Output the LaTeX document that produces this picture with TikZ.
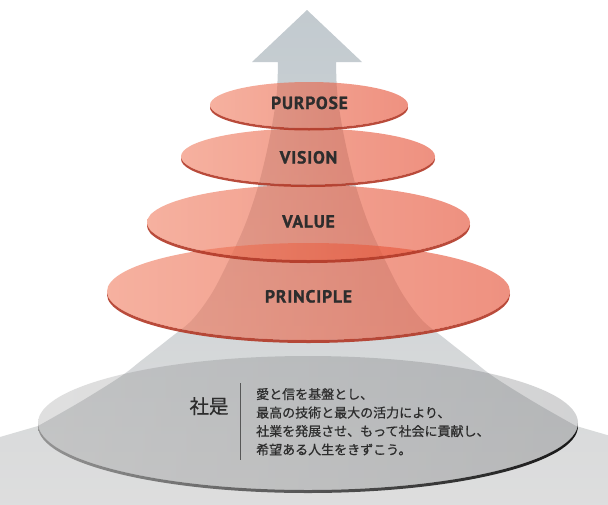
\documentclass[tikz,border=0pt]{standalone}
\usepackage{fontspec}
\newfontfamily\labelfont{PT Sans}[LetterSpace=5, BoldFeatures={FakeBold=1.2}]
\newfontfamily\jpfont{Noto Sans CJK JP}[FakeBold=0.7]

\definecolor{arrowtop}{RGB}{194,202,207}
\definecolor{fanmid}{RGB}{199,202,205}
\definecolor{floorgray}{RGB}{222,222,222}
\definecolor{diskL}{RGB}{240,125,96}
\definecolor{diskR}{RGB}{228,72,44}
\definecolor{rimred}{RGB}{178,56,38}
\definecolor{inkgray}{RGB}{45,45,45}
\definecolor{baseL}{RGB}{125,125,125}
\definecolor{baseR}{RGB}{70,72,76}
\definecolor{rimL}{RGB}{150,150,150}
\definecolor{rimR}{RGB}{20,20,20}

% a flat disk: rim crescent underneath, translucent face on top
% #1 cx, #2 cy, #3 rx, #4 ry, #5 rim thickness
\newcommand\drawdisk[5]{%
  \begin{scope}
    \clip (#1,#2+#5) ellipse [x radius=#3, y radius=#4];
    \fill[rimred, opacity=0.9, even odd rule]
      (#1-#3-4,#2-#4-4) rectangle (#1+#3+4,#2+#4+#5+4)
      (#1,#2) ellipse [x radius=#3, y radius=#4];
  \end{scope}
  \shade[left color=diskL, right color=diskR, fill opacity=0.6]
    (#1,#2) ellipse [x radius=#3, y radius=#4];
}

\tikzset{
  disklabel/.style={font=\labelfont\bfseries\fontsize{17.5}{20}\selectfont,
    text=inkgray, anchor=base, inner sep=0pt},
  mottoline/.style={font=\jpfont\fontsize{13}{15}\selectfont,
    text=inkgray, anchor=base west, inner sep=0pt},
}

\begin{document}
\begin{tikzpicture}[x=1pt,y=-1pt]
\useasboundingbox (0,0) rectangle (608,504);
\fill[white] (0,0) rectangle (608,504);

% arrow that widens into the floor
\shade[top color=arrowtop, middle color=fanmid, bottom color=floorgray]
  (252,62) -- (307,10) -- (362,62) -- (336,62)
  -- plot[smooth, tension=0.55] coordinates {(336,62) (337,90) (341,120) (348,155)
     (357,190) (369,225) (384,258) (402,293) (422,320) (444,338) (472,360)
     (494,377) (534,402) (576,426)}
  -- (614,437) -- (626,440) -- (626,515) -- (-12,515) -- (-12,440) -- (0,437)
  -- plot[smooth, tension=0.55] coordinates {(38,426) (80,402) (120,377) (142,360)
     (170,338) (192,320) (212,293) (230,258) (245,225) (257,190) (266,155)
     (273,120) (277,90) (278,62)}
  -- cycle;

% base disk
\begin{scope}
  \clip (308,426) ellipse [x radius=270, y radius=67];
  \shade[left color=rimL, right color=rimR, even odd rule]
    (30,340) rectangle (590,500)
    (308,423) ellipse [x radius=270, y radius=67];
\end{scope}
\shade[left color=baseL, right color=baseR, fill opacity=0.24]
  (308,423) ellipse [x radius=270, y radius=67];

% stacked disks, widest first
\drawdisk{308.5}{291.5}{201.5}{48.5}{3}
\drawdisk{308.5}{222.5}{161.5}{37.5}{3}
\drawdisk{308}{156.5}{127}{28}{2.5}
\drawdisk{309}{105}{99}{23}{2.5}

\node[disklabel] (purpose)   at (309.5,109)   {PURPOSE};
\node[disklabel] (vision)    at (308.5,163.5) {VISION};
\node[disklabel] (value)     at (308.5,227.5) {VALUE};
\node[disklabel] (principle) at (308.5,302.5) {PRINCIPLE};

% motto
\node[font=\jpfont\fontsize{19.5}{22}\selectfont, text=inkgray, anchor=base,
  inner sep=0pt] (shaze) at (209,413.5) {社是};
\coordinate (divtop) at (240,383);
\coordinate (divbot) at (240,460);
\draw[inkgray!80, line width=0.8pt] (divtop) -- (divbot);
\node[mottoline] (m1) at (256,399)   {愛と信を基盤とし、};
\node[mottoline] (m2) at (256,417.5) {最高の技術と最大の活力により、};
\node[mottoline] (m3) at (256,436)   {社業を発展させ、もって社会に貢献し、};
\node[mottoline] (m4) at (256,454.5) {希望ある人生をきずこう。};
\end{tikzpicture}
\end{document}
